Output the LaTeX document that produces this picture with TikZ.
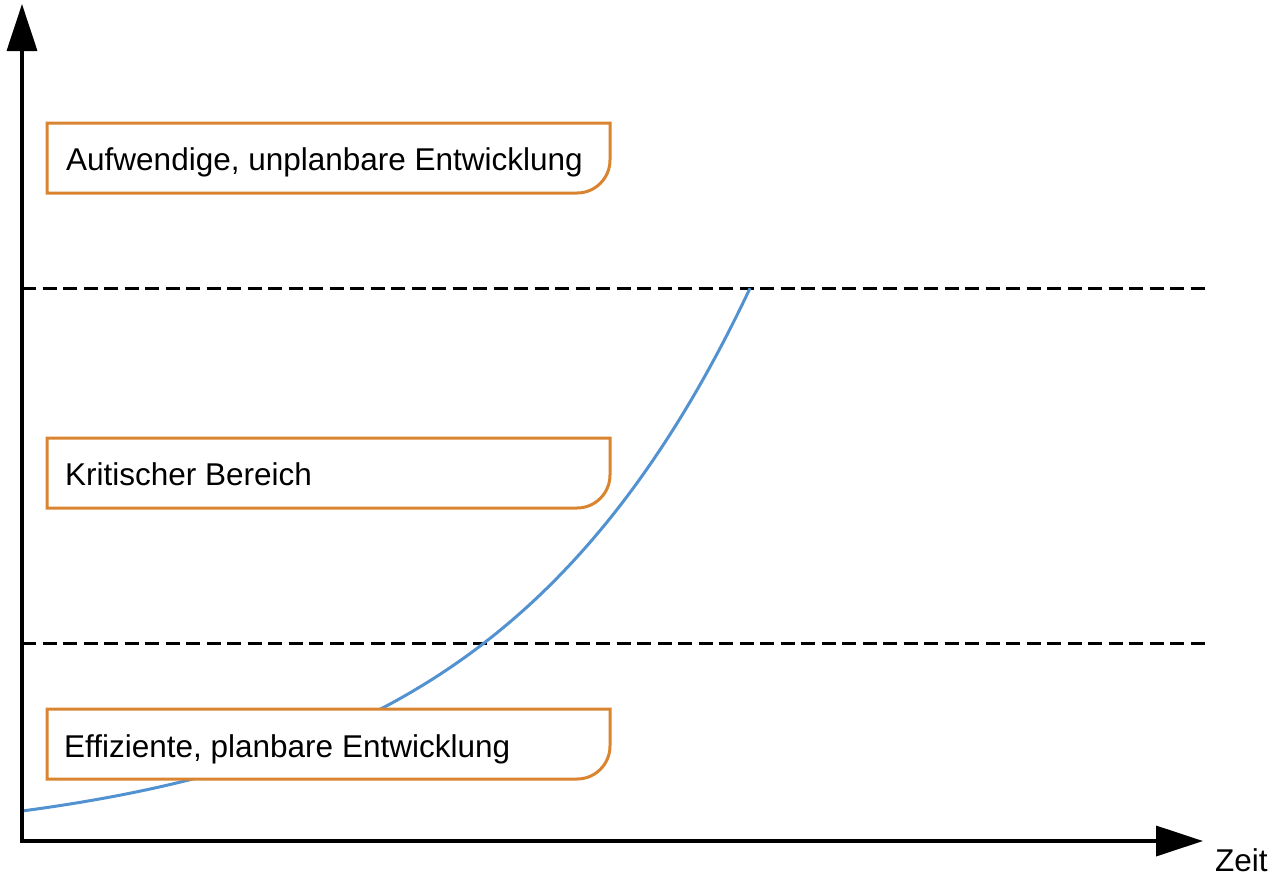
\documentclass[tikz,border=0pt]{standalone}
\usepackage{fontspec}
\setmainfont{Liberation Sans}
\usetikzlibrary{arrows.meta}
\definecolor{boxorange}{RGB}{218,132,48}
\definecolor{curveblue}{RGB}{82,146,208}
\tikzset{
  axis/.style={line width=3.5pt, -{Triangle[length=47pt,width=30pt]}},
  level/.style={line width=3pt, dash pattern=on 14pt off 6.5pt},
  growth/.style={line width=3pt, curveblue},
  zonebox/.style={line width=3pt, draw=boxorange, fill=white},
  zonelabel/.style={anchor=base west, inner sep=0pt, font=\fontsize{31.5}{38}\selectfont},
}
\begin{document}
\begin{tikzpicture}[x=1pt,y=-1pt]
\useasboundingbox (0,0) rectangle (1284,879);

% axis corner and arrow ends
\coordinate (origin) at (22,841);
\coordinate (ytip) at (22,4);
\coordinate (xtip) at (1203,841);

% threshold lines
\coordinate (lowL) at (22,643);
\coordinate (lowR) at (1205,643);
\coordinate (highL) at (22,288);
\coordinate (highR) at (1205,288);
\draw[level] (lowL) -- (lowR);
\draw[level] (highL) -- (highR);

% exponential growth curve
\draw[growth] plot[domain=0:728, samples=120, smooth]
  ({22+\x}, {841-(-5.1+35.1*exp(0.0038*\x))});

% zone boxes, lower right corner rounded
\foreach \top/\bot in {123/193, 438/508, 709/779}{
  \draw[zonebox] (47,\top) -- (610,\top) -- (610,\bot-33)
    arc[start angle=0, end angle=90, radius=33] -- (47,\bot) -- cycle;
}
\node[zonelabel] (upper) at (66,170) {Aufwendige, unplanbare Entwicklung};
\node[zonelabel] (middle) at (65,485) {Kritischer Bereich};
\node[zonelabel] (lower) at (64,757) {Effiziente, planbare Entwicklung};

% axes
\draw[axis, line cap=round] (origin) -- (ytip);
\draw[axis] ([xshift=-1.75pt]origin) -- (xtip);
\node[zonelabel] (time) at (1215,871) {Zeit};
\end{tikzpicture}
\end{document}
